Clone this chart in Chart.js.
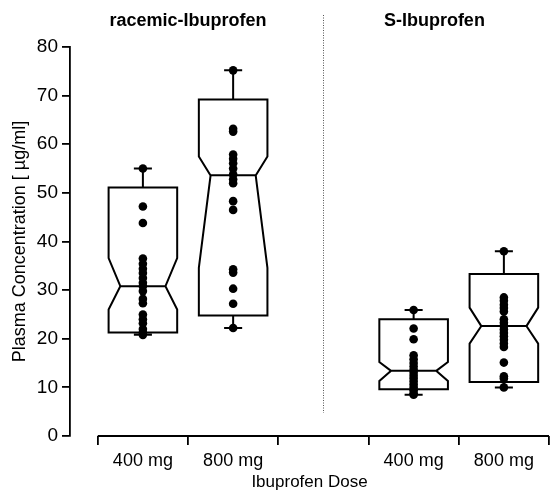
<!DOCTYPE html>
<html>
<head>
<meta charset="utf-8">
<script src="https://cdn.jsdelivr.net/npm/chart.js@4.4.0/dist/chart.umd.min.js"></script>
<style>
    html, body { margin: 0; padding: 0; background: #fff; }
    .chart-container { width: 554px; height: 495px; }
</style>
</head>
<body>
<div class="chart-container"><canvas id="myChart"></canvas></div>
<script>
// dose labels under each slot (slot 2 is the empty gap between the two drugs)
const doseLabels = ['400 mg', '800 mg', '', '400 mg', '800 mg'];
const groupTitles = ['racemic-Ibuprofen', 'S-Ibuprofen'];

// individual plasma concentrations (µg/ml)
const racemic400 = [55.0, 47.2, 43.8, 36.5, 35.4, 34.4, 33.5, 32.5, 31.5, 30.8, 29.8, 28.2, 27.3, 25.0, 24.0, 23.2, 22.0, 21.3, 20.8];
const racemic800 = [75.2, 63.2, 62.6, 57.9, 57.0, 56.1, 55.0, 53.8, 52.8, 52.0, 48.3, 46.5, 34.3, 33.6, 30.3, 27.2, 22.2];
const s400 = [25.9, 22.1, 19.9, 16.6, 15.8, 15.0, 14.3, 13.6, 13.0, 12.4, 11.8, 11.2, 10.6, 10.0, 9.4, 8.8, 8.5];
const s800 = [38.0, 28.5, 27.8, 27.0, 26.3, 25.6, 24.0, 23.3, 22.6, 21.9, 21.2, 20.5, 19.8, 19.0, 18.3, 15.1, 12.3, 11.8, 10.0];

// box stats: whisker low, q1, notch low, median, notch high, q3, whisker high
const racemic400Box = [20.8, 21.3, 26.0, 30.8, 36.6, 51.1, 55.0];
const racemic800Box = [22.2, 24.8, 34.6, 53.6, 57.5, 69.2, 75.2];
const s400Box = [8.5, 9.6, 11.3, 13.4, 15.2, 24.0, 25.9];
const s800Box = [10.0, 11.1, 19.0, 22.6, 26.4, 33.3, 38.0];

const slots = [0, 1, 3, 4];
const pointSets = [racemic400, racemic800, s400, s800];
const boxSets = [racemic400Box, racemic800Box, s400Box, s800Box];

const FONT = "'Liberation Sans', Arial, Helvetica, sans-serif";

const boxPlugin = {
    id: 'notchedBoxes',
    beforeDatasetsDraw(chart) {
        const { ctx, scales: { x, y } } = chart;
        const unit = x.getPixelForValue(1) - x.getPixelForValue(0);
        const hw = unit * 0.38, nw = unit * 0.25, cw = unit * 0.1;
        ctx.save();
        ctx.strokeStyle = '#000';
        ctx.lineWidth = 2;
        boxSets.forEach((b, i) => {
            const cx = x.getPixelForValue(slots[i] + 0.5);
            const [wl, q1, nl, med, nh, q3, wh] = b.map(v => y.getPixelForValue(v));
            ctx.beginPath();
            ctx.moveTo(cx - hw, q3);
            ctx.lineTo(cx - hw, nh);
            ctx.lineTo(cx - nw, med);
            ctx.lineTo(cx - hw, nl);
            ctx.lineTo(cx - hw, q1);
            ctx.lineTo(cx + hw, q1);
            ctx.lineTo(cx + hw, nl);
            ctx.lineTo(cx + nw, med);
            ctx.lineTo(cx + hw, nh);
            ctx.lineTo(cx + hw, q3);
            ctx.closePath();
            ctx.moveTo(cx - nw, med);
            ctx.lineTo(cx + nw, med);
            // whiskers
            ctx.moveTo(cx, q3); ctx.lineTo(cx, wh);
            ctx.moveTo(cx - cw, wh); ctx.lineTo(cx + cw, wh);
            ctx.moveTo(cx, q1); ctx.lineTo(cx, wl);
            ctx.moveTo(cx - cw, wl); ctx.lineTo(cx + cw, wl);
            ctx.stroke();
        });
        ctx.restore();
    },
    afterDraw(chart) {
        const { ctx, scales: { x, y } } = chart;
        ctx.save();
        // x axis line starts at the first slot, not at the y axis
        ctx.strokeStyle = '#000';
        ctx.lineWidth = 1.8;
        ctx.beginPath();
        ctx.moveTo(x.getPixelForValue(0), y.getPixelForValue(0));
        ctx.lineTo(x.getPixelForValue(5), y.getPixelForValue(0));
        ctx.stroke();

        // dotted divider
        const dx = Math.round(x.getPixelForValue(2.5)) + 0.5;
        ctx.strokeStyle = '#555';
        ctx.lineWidth = 1;
        ctx.setLineDash([1, 1.5]);
        ctx.beginPath();
        ctx.moveTo(dx, 15);
        ctx.lineTo(dx, 413);
        ctx.stroke();
        ctx.setLineDash([]);

        ctx.fillStyle = '#000';
        ctx.font = 'bold 18px ' + FONT;
        ctx.textAlign = 'center';
        ctx.textBaseline = 'middle';
        ctx.fillText(groupTitles[0], x.getPixelForValue(1), 21);
        ctx.fillText(groupTitles[1], x.getPixelForValue(3.73), 21);
        ctx.restore();
    }
};

const ctx = document.getElementById('myChart');

new Chart(ctx, {
    type: 'scatter',
    data: {
        datasets: pointSets.map((vals, i) => ({
            data: vals.map(v => ({ x: slots[i] + 0.5, y: v })),
            backgroundColor: '#000',
            borderWidth: 0,
            pointRadius: 4.3,
            pointHoverRadius: 4.3
        }))
    },
    options: {
        responsive: true,
        maintainAspectRatio: false,
        animation: false,
        layout: { padding: { top: 47, right: 1, left: 0, bottom: 0 } },
        plugins: {
            legend: { display: false },
            tooltip: { enabled: false }
        },
        scales: {
            x: {
                type: 'linear',
                min: -28 / 91,
                max: 5,
                afterBuildTicks: (scale) => {
                    scale.ticks = [0, 0.5, 1, 1.5, 2, 2.5, 3, 3.5, 4, 4.5, 5].map(v => ({ value: v }));
                },
                afterFit: (scale) => { scale.height = 59; },
                border: { display: false },
                grid: {
                    drawOnChartArea: false,
                    tickLength: 9,
                    lineWidth: 1.8,
                    color: (c) => (c.tick && c.tick.value % 1 === 0) ? '#000' : 'rgba(0,0,0,0)'
                },
                ticks: {
                    autoSkip: false,
                    maxRotation: 0,
                    padding: 5,
                    color: '#000',
                    font: { family: FONT, size: 18 },
                    callback: (v) => (v % 1 === 0.5) ? doseLabels[Math.floor(v)] : ''
                },
                title: {
                    display: true,
                    text: 'Ibuprofen Dose',
                    color: '#000',
                    font: { family: FONT, size: 17 },
                    padding: { top: 2, bottom: 2 }
                }
            },
            y: {
                min: 0,
                max: 80,
                afterFit: (scale) => { scale.width = 70; },
                border: { display: true, color: '#000', width: 1.8 },
                grid: {
                    drawOnChartArea: false,
                    tickLength: 8,
                    lineWidth: 1.8,
                    color: '#000'
                },
                ticks: {
                    stepSize: 10,
                    padding: 4,
                    color: '#000',
                    font: { family: FONT, size: 19 }
                },
                title: {
                    display: true,
                    text: 'Plasma Concentration [ µg/ml]',
                    color: '#000',
                    font: { family: FONT, size: 18 },
                    padding: { top: 9, bottom: 0 }
                }
            }
        }
    },
    plugins: [boxPlugin]
});
</script>
</body>
</html>
